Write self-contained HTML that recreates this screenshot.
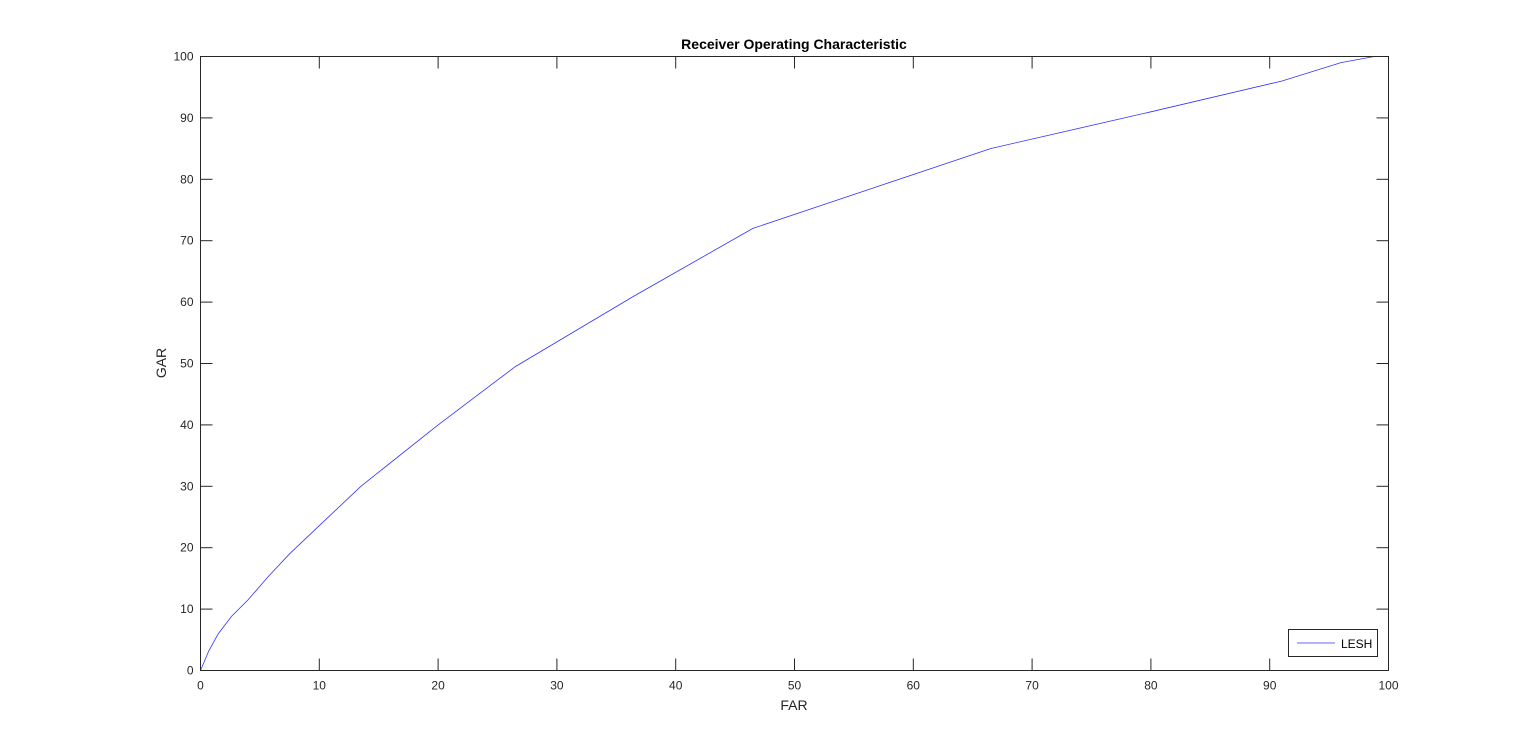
<!DOCTYPE html>
<html><head><meta charset="utf-8"><style>
html,body{margin:0;padding:0;background:#fff;}
svg{display:block;font-family:"Liberation Sans",Arial,sans-serif;}
</style></head><body>
<svg id="chart" width="1536" height="753">
<rect x="0" y="0" width="1536" height="753" fill="#fff"/>
<g id="ticks"></g>
<path id="curve" fill="none" stroke="#3333ff" stroke-width="0.8"/>
<rect x="200.5" y="56.5" width="1188" height="614" fill="none" stroke="#262626" stroke-width="1"/>
<text x="794" y="49" text-anchor="middle" font-size="14" font-weight="bold" fill="#000">Receiver Operating Characteristic</text>
<text x="794" y="710" text-anchor="middle" font-size="14" fill="#262626">FAR</text>
<text x="166" y="363" text-anchor="middle" font-size="14" fill="#262626" transform="rotate(-90 166 363)">GAR</text>
<g>
<rect x="1288.5" y="629.5" width="89" height="27" fill="#fff" stroke="#262626" stroke-width="1"/>
<line x1="1297" y1="643" x2="1335" y2="643" stroke="#3333ff" stroke-width="0.8"/>
<text x="1341" y="648" font-size="12" fill="#000">LESH</text>
</g>
</svg>
<script>
const farValues = [0, 0.7, 1.5, 2.6, 4, 5.7, 7.5, 10.5, 13.5, 20, 26.5, 36.5, 46.5, 56.5, 66.5, 80, 91, 96, 98.8, 100];
const garValues = [0, 3.2, 6, 8.8, 11.5, 15.3, 19, 24.5, 30, 40, 49.5, 61, 72, 78.5, 85, 91, 96, 99, 100, 100];
const xTicks = [0,10,20,30,40,50,60,70,80,90,100];
const yTicks = [0,10,20,30,40,50,60,70,80,90,100];
const L=200.5,R=1388.5,T=56.5,B=670.5;
function xs(v){return L+(R-L)*v/100;}
function ys(v){return B-(B-T)*v/100;}
const NS="http://www.w3.org/2000/svg";
const g=document.getElementById('ticks');
let d='';
farValues.forEach((v,i)=>{d+=(i?'L':'M')+xs(v).toFixed(1)+' '+ys(garValues[i]).toFixed(1);});
document.getElementById('curve').setAttribute('d',d);
function mk(tag,attrs){const e=document.createElementNS(NS,tag);for(const k in attrs)e.setAttribute(k,attrs[k]);g.appendChild(e);return e;}
xTicks.forEach(v=>{
  const x=xs(v);
  const a=mk('line',{x1:x,y1:B,x2:x,y2:B-12,stroke:'#262626'});
  
  
  const b=mk('line',{x1:x,y1:T,x2:x,y2:T+12,stroke:'#262626'});
  
  
  const t=mk('text',{x:x,y:B+19,'text-anchor':'middle','font-size':'12',fill:'#262626'});
  t.textContent=v;
  
  
});
yTicks.forEach(v=>{
  const y=ys(v);
  const a=mk('line',{x1:L,y1:y,x2:L+12,y2:y,stroke:'#262626'});
  
  
  const b=mk('line',{x1:R,y1:y,x2:R-12,y2:y,stroke:'#262626'});
  
  
  const t=mk('text',{x:L-7,y:y+4,'text-anchor':'end','font-size':'12',fill:'#262626'});
  t.textContent=v;
  
  
});
</script>
</body></html>
